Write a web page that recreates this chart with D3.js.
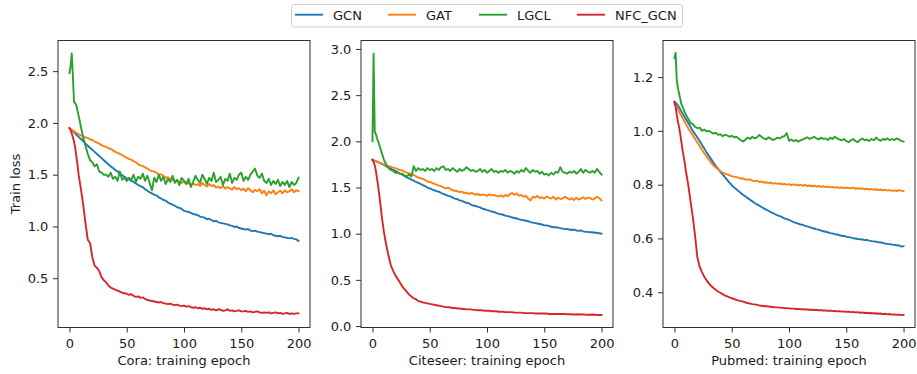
<!DOCTYPE html>
<html><head><meta charset="utf-8">
<script src="https://cdn.jsdelivr.net/npm/d3@7"></script>
<style>body{margin:0;background:#fff}svg{display:block}text{font-family:"DejaVu Sans",sans-serif}</style>
</head><body><svg id="c" width="917" height="374"></svg>
<script>
const epochs=[0,1,2,3,4,5,6,7,8,9,10,
12,14,16,18,20,22,24,26,28,30,
32,34,36,38,40,42,44,46,48,50,
52,54,56,58,60,62,64,66,68,70,
72,74,76,78,80,82,84,86,88,90,
92,94,96,98,100,102,104,106,108,110,
112,114,116,118,120,122,124,126,128,130,
132,134,136,138,140,142,144,146,148,150,
152,154,156,158,160,162,164,166,168,170,
172,174,176,178,180,182,184,186,188,190,
192,194,196,198,200];
const seriesNames=["GCN","GAT","LGCL","NFC_GCN"];
const seriesColors=["#1f77b4","#ff7f0e","#2ca02c","#d62728"];
const datasetNames=["Cora","Citeseer","Pubmed"];
const xTicks=[0,50,100,150,200];
const yTicksCora=[0.5,1.0,1.5,2.0,2.5];
const yTicksCiteseer=[0.0,0.5,1.0,1.5,2.0,2.5,3.0];
const yTicksPubmed=[0.4,0.6,0.8,1.0,1.2];

// ---- Cora ----
const coraGCN=[1.95,1.94,1.93,1.92,1.91,1.90,1.885,1.875,1.865,1.855,1.845,
1.825,1.80,1.78,1.76,1.74,1.72,1.70,1.68,1.66,1.64,
1.62,1.60,1.58,1.565,1.545,1.53,1.51,1.495,1.48,1.465,
1.455,1.44,1.43,1.415,1.40,1.39,1.38,1.36,1.345,1.33,
1.32,1.305,1.30,1.28,1.27,1.255,1.25,1.23,1.22,1.21,
1.20,1.185,1.18,1.17,1.15,1.145,1.14,1.13,1.12,1.115,
1.11,1.095,1.09,1.085,1.07,1.075,1.06,1.05,1.055,1.04,
1.035,1.03,1.025,1.02,1.01,1.005,0.995,1.00,0.985,0.98,
0.975,0.97,0.975,0.96,0.955,0.96,0.95,0.945,0.94,0.935,
0.93,0.925,0.93,0.915,0.91,0.905,0.91,0.90,0.895,0.89,
0.885,0.89,0.88,0.875,0.86];
const coraGAT=[1.95,1.94,1.935,1.925,1.92,1.91,1.905,1.90,1.89,1.885,1.88,
1.87,1.86,1.855,1.84,1.835,1.82,1.81,1.80,1.785,1.775,
1.77,1.755,1.75,1.735,1.72,1.71,1.70,1.69,1.675,1.665,
1.65,1.645,1.63,1.62,1.60,1.59,1.585,1.57,1.56,1.545,
1.535,1.53,1.52,1.50,1.505,1.49,1.47,1.475,1.46,1.45,
1.44,1.445,1.43,1.42,1.435,1.41,1.42,1.40,1.415,1.40,
1.41,1.39,1.42,1.40,1.385,1.41,1.39,1.40,1.375,1.385,
1.37,1.39,1.365,1.38,1.37,1.355,1.38,1.36,1.37,1.35,
1.365,1.34,1.37,1.35,1.33,1.355,1.34,1.36,1.32,1.345,
1.30,1.34,1.32,1.35,1.31,1.33,1.345,1.32,1.35,1.33,
1.34,1.36,1.33,1.35,1.34];
const coraLGCL=[2.48,2.55,2.67,2.45,2.20,2.19,2.17,2.12,2.07,2.02,1.96,
1.86,1.78,1.70,1.64,1.62,1.58,1.60,1.53,1.52,1.50,
1.50,1.48,1.52,1.46,1.48,1.44,1.53,1.45,1.47,1.44,
1.47,1.45,1.50,1.43,1.48,1.46,1.51,1.44,1.49,1.42,
1.35,1.47,1.43,1.50,1.44,1.48,1.41,1.46,1.43,1.49,
1.42,1.45,1.40,1.47,1.44,1.41,1.46,1.38,1.43,1.49,
1.45,1.42,1.50,1.46,1.41,1.47,1.44,1.52,1.43,1.45,
1.48,1.40,1.46,1.44,1.51,1.42,1.47,1.45,1.50,1.52,
1.44,1.48,1.45,1.50,1.53,1.56,1.49,1.47,1.51,1.44,
1.42,1.46,1.40,1.44,1.41,1.45,1.39,1.43,1.40,1.44,
1.38,1.43,1.40,1.42,1.47];
const coraNFC=[1.95,1.93,1.90,1.86,1.82,1.76,1.68,1.60,1.50,1.43,1.36,
1.21,1.03,0.87,0.84,0.70,0.62,0.60,0.57,0.51,0.48,
0.46,0.43,0.41,0.40,0.39,0.38,0.37,0.36,0.355,0.35,
0.34,0.345,0.33,0.32,0.325,0.31,0.315,0.30,0.29,0.285,
0.28,0.275,0.27,0.265,0.27,0.26,0.255,0.25,0.255,0.245,
0.24,0.245,0.235,0.23,0.235,0.225,0.23,0.22,0.215,0.22,
0.21,0.215,0.205,0.21,0.20,0.205,0.195,0.20,0.19,0.20,
0.195,0.185,0.19,0.20,0.185,0.19,0.18,0.185,0.19,0.18,
0.18,0.185,0.175,0.18,0.17,0.175,0.18,0.17,0.165,0.17,
0.165,0.17,0.16,0.165,0.17,0.16,0.165,0.155,0.16,0.165,
0.155,0.16,0.155,0.16,0.16];

// ---- Citeseer ----
const citeseerGCN=[1.80,1.795,1.79,1.785,1.78,1.775,1.77,1.765,1.755,1.75,1.745,
1.73,1.72,1.705,1.69,1.68,1.665,1.65,1.64,1.625,1.61,
1.60,1.585,1.575,1.56,1.55,1.54,1.525,1.515,1.50,1.49,
1.48,1.47,1.46,1.455,1.44,1.43,1.42,1.41,1.405,1.39,
1.38,1.375,1.36,1.355,1.345,1.335,1.33,1.315,1.305,1.30,
1.29,1.285,1.27,1.265,1.255,1.25,1.24,1.235,1.225,1.215,
1.21,1.205,1.195,1.19,1.185,1.175,1.17,1.165,1.155,1.15,
1.145,1.14,1.135,1.125,1.12,1.115,1.11,1.105,1.10,1.09,
1.09,1.085,1.075,1.07,1.07,1.065,1.06,1.055,1.05,1.05,
1.045,1.04,1.045,1.035,1.03,1.035,1.025,1.02,1.02,1.015,
1.015,1.01,1.01,1.005,1.00];
const citeseerGAT=[1.80,1.795,1.79,1.785,1.78,1.775,1.77,1.765,1.76,1.755,1.75,
1.74,1.73,1.725,1.715,1.71,1.70,1.69,1.685,1.67,1.66,
1.655,1.64,1.635,1.62,1.61,1.60,1.595,1.58,1.565,1.56,
1.55,1.54,1.53,1.52,1.515,1.50,1.49,1.50,1.485,1.47,
1.465,1.46,1.45,1.455,1.44,1.445,1.43,1.44,1.435,1.42,
1.43,1.415,1.425,1.42,1.41,1.425,1.415,1.42,1.41,1.405,
1.415,1.40,1.42,1.405,1.43,1.44,1.42,1.435,1.41,1.42,
1.40,1.41,1.38,1.36,1.40,1.39,1.41,1.385,1.395,1.38,
1.40,1.39,1.38,1.40,1.37,1.39,1.375,1.38,1.40,1.385,
1.37,1.385,1.365,1.39,1.37,1.38,1.395,1.375,1.39,1.385,
1.37,1.38,1.40,1.385,1.36];
const citeseerLGCL=[2.00,2.95,2.10,2.08,2.03,2.00,1.96,1.92,1.88,1.84,1.80,
1.75,1.71,1.69,1.68,1.66,1.66,1.65,1.65,1.63,1.62,
1.64,1.62,1.73,1.68,1.71,1.69,1.70,1.68,1.71,1.69,
1.70,1.68,1.71,1.69,1.72,1.73,1.69,1.70,1.68,1.71,
1.69,1.67,1.70,1.68,1.69,1.72,1.70,1.68,1.69,1.67,
1.68,1.70,1.67,1.69,1.66,1.68,1.70,1.67,1.68,1.66,
1.68,1.67,1.69,1.66,1.68,1.67,1.65,1.68,1.66,1.69,
1.67,1.71,1.68,1.66,1.69,1.67,1.68,1.65,1.67,1.64,
1.65,1.63,1.66,1.64,1.67,1.66,1.72,1.67,1.66,1.65,
1.67,1.66,1.68,1.65,1.67,1.70,1.66,1.69,1.67,1.66,
1.68,1.66,1.70,1.67,1.64];
const citeseerNFC=[1.80,1.78,1.74,1.68,1.60,1.51,1.42,1.31,1.20,1.11,1.02,
0.88,0.76,0.66,0.60,0.55,0.51,0.47,0.43,0.40,0.37,
0.34,0.32,0.30,0.29,0.27,0.265,0.255,0.25,0.245,0.24,
0.235,0.23,0.225,0.22,0.215,0.21,0.205,0.205,0.20,0.195,
0.195,0.19,0.19,0.185,0.185,0.18,0.18,0.18,0.175,0.175,
0.17,0.17,0.17,0.165,0.165,0.165,0.16,0.16,0.16,0.155,
0.155,0.155,0.15,0.15,0.15,0.15,0.145,0.145,0.145,0.145,
0.14,0.14,0.14,0.14,0.14,0.135,0.135,0.135,0.135,0.135,
0.135,0.13,0.13,0.13,0.13,0.13,0.13,0.13,0.13,0.128,
0.128,0.128,0.125,0.125,0.127,0.125,0.125,0.123,0.122,0.122,
0.125,0.122,0.12,0.121,0.12];

// ---- Pubmed ----
const pubmedGCN=[1.108,1.105,1.10,1.094,1.088,1.08,1.073,1.065,1.058,1.05,1.043,
1.03,1.015,1.00,0.988,0.975,0.962,0.948,0.935,0.92,0.907,
0.895,0.882,0.87,0.86,0.848,0.838,0.828,0.818,0.808,0.798,
0.79,0.783,0.776,0.769,0.762,0.756,0.75,0.744,0.738,0.732,
0.727,0.722,0.717,0.712,0.707,0.703,0.698,0.694,0.69,0.686,
0.683,0.679,0.675,0.672,0.669,0.665,0.661,0.658,0.655,0.652,
0.651,0.647,0.645,0.642,0.639,0.637,0.634,0.633,0.629,0.627,
0.625,0.623,0.62,0.619,0.616,0.615,0.612,0.61,0.609,0.607,
0.605,0.604,0.601,0.60,0.598,0.597,0.596,0.594,0.595,0.592,
0.59,0.589,0.588,0.586,0.585,0.584,0.581,0.58,0.579,0.577,
0.576,0.575,0.574,0.57,0.571];
const pubmedGAT=[1.10,1.095,1.088,1.08,1.072,1.064,1.056,1.048,1.04,1.033,1.025,
1.01,0.997,0.984,0.97,0.957,0.944,0.93,0.917,0.905,0.893,
0.882,0.872,0.864,0.857,0.851,0.845,0.842,0.838,0.835,0.832,
0.83,0.828,0.826,0.822,0.824,0.819,0.818,0.82,0.815,0.813,
0.815,0.81,0.812,0.808,0.809,0.806,0.808,0.804,0.806,0.803,
0.805,0.801,0.803,0.80,0.802,0.798,0.801,0.799,0.797,0.80,
0.796,0.799,0.795,0.797,0.794,0.796,0.793,0.795,0.792,0.794,
0.791,0.793,0.79,0.792,0.789,0.791,0.788,0.79,0.787,0.789,
0.788,0.786,0.789,0.785,0.787,0.784,0.786,0.783,0.785,0.782,
0.784,0.781,0.783,0.78,0.782,0.779,0.781,0.778,0.78,0.777,
0.779,0.776,0.78,0.778,0.776];
const pubmedLGCL=[1.27,1.29,1.19,1.16,1.14,1.12,1.10,1.09,1.08,1.07,1.06,
1.045,1.03,1.025,1.015,1.01,1.012,1.00,1.005,0.998,1.00,
0.995,0.99,0.993,0.985,0.988,0.98,0.985,0.983,0.978,0.982,
0.976,0.978,0.972,0.965,0.96,0.968,0.975,0.97,0.978,0.972,
0.976,0.985,0.978,0.972,0.968,0.976,0.971,0.966,0.97,0.975,
0.972,0.978,0.98,0.992,0.963,0.968,0.962,0.966,0.96,0.965,
0.968,0.972,0.976,0.97,0.974,0.978,0.972,0.968,0.975,0.97,
0.972,0.966,0.975,0.97,0.978,0.972,0.968,0.965,0.97,0.962,
0.958,0.965,0.97,0.962,0.958,0.966,0.972,0.965,0.968,0.962,
0.97,0.965,0.975,0.968,0.963,0.97,0.967,0.972,0.965,0.97,
0.966,0.972,0.968,0.963,0.96];
const pubmedNFC=[1.108,1.09,1.06,1.035,1.015,0.99,0.96,0.93,0.905,0.88,0.85,
0.80,0.74,0.68,0.61,0.53,0.495,0.475,0.458,0.445,0.433,
0.424,0.416,0.409,0.403,0.398,0.393,0.388,0.385,0.381,0.378,
0.375,0.372,0.369,0.367,0.365,0.362,0.36,0.358,0.356,0.355,
0.353,0.351,0.35,0.349,0.348,0.347,0.346,0.345,0.344,0.344,
0.343,0.342,0.341,0.341,0.34,0.339,0.339,0.338,0.338,0.337,
0.337,0.336,0.336,0.335,0.335,0.334,0.334,0.333,0.333,0.332,
0.332,0.331,0.332,0.33,0.331,0.329,0.33,0.328,0.329,0.327,
0.328,0.326,0.327,0.325,0.326,0.324,0.325,0.323,0.324,0.322,
0.323,0.321,0.322,0.32,0.321,0.319,0.32,0.318,0.319,0.317,
0.318,0.316,0.317,0.315,0.316];

const panelSeries=[
  [coraGCN,coraGAT,coraLGCL,coraNFC],
  [citeseerGCN,citeseerGAT,citeseerLGCL,citeseerNFC],
  [pubmedGCN,pubmedGAT,pubmedLGCL,pubmedNFC]
];
const panelTicks=[yTicksCora,yTicksCiteseer,yTicksPubmed];
// layout
const panelLeft=[58,361,663];
const panelW=252, panelTop=40.5, panelH=287;
const yDomains=[[0.024,2.796],[-0.016,3.092],[0.269,1.336]];
const fs=13;

const svg=d3.select("#c");
svg.append("rect").attr("width",917).attr("height",374).attr("fill","#fff");

panelSeries.forEach((series,p)=>{
  const g=svg.append("g").attr("transform",`translate(${panelLeft[p]},${panelTop})`);
  const x=d3.scaleLinear().domain([-10,210]).range([0,panelW]);
  const y=d3.scaleLinear().domain(yDomains[p]).range([panelH,0]);
  const line=d3.line().x((d)=>x(d[0])).y((d)=>y(d[1]));
  series.forEach((vals,s)=>{
    const pts=epochs.map((e,i)=>[e,vals[i]]).filter(d=>d[1]!==undefined);
    g.append("path").datum(pts).attr("d",line)
      .attr("fill","none").attr("stroke",seriesColors[s])
      .attr("stroke-width",1.9).attr("stroke-linejoin","round").attr("stroke-linecap","square");
  });
  const xa=g.append("g").attr("transform",`translate(0,${panelH})`)
    .call(d3.axisBottom(x).tickValues(xTicks).tickFormat(d3.format("d")).tickSize(5).tickPadding(6).tickSizeOuter(0));
  const ya=g.append("g")
    .call(d3.axisLeft(y).tickValues(panelTicks[p]).tickFormat(d3.format(".1f")).tickSize(5).tickPadding(4.7).tickSizeOuter(0));
  [xa,ya].forEach(a=>{
    a.select(".domain").remove();
    a.selectAll("text").attr("font-size",fs).attr("font-family","DejaVu Sans").attr("fill","#1a1a1a");
    a.selectAll("line").attr("stroke","#1a1a1a").attr("stroke-width",0.9);
  });
  g.append("rect").attr("x",0).attr("y",0).attr("width",panelW).attr("height",panelH)
    .attr("fill","none").attr("stroke","#1a1a1a").attr("stroke-width",0.9);
  g.append("text").attr("x",panelW/2).attr("y",365-panelTop).attr("text-anchor","middle")
    .attr("font-size",fs).attr("fill","#1a1a1a").text(datasetNames[p]+": training epoch");
});

svg.append("text").attr("transform","translate(19.5,184) rotate(-90)")
  .attr("text-anchor","middle").attr("font-size",fs).attr("fill","#1a1a1a").text("Train loss");

// legend
const lg=svg.append("g");
lg.append("rect").attr("x",291.5).attr("y",4.5).attr("width",391).attr("height",22.5).attr("rx",2.5)
  .attr("fill","#fff").attr("stroke","#d0d0d0").attr("stroke-width",1);
const legendX=[295,388,479,577];
seriesNames.forEach((n,i)=>{
  lg.append("line").attr("x1",legendX[i]).attr("x2",legendX[i]+28).attr("y1",14.7).attr("y2",14.7)
    .attr("stroke",seriesColors[i]).attr("stroke-width",1.9);
  lg.append("text").attr("x",legendX[i]+38).attr("y",19.5).attr("font-size",fs).attr("fill","#1a1a1a").text(n);
});
</script></body></html>
